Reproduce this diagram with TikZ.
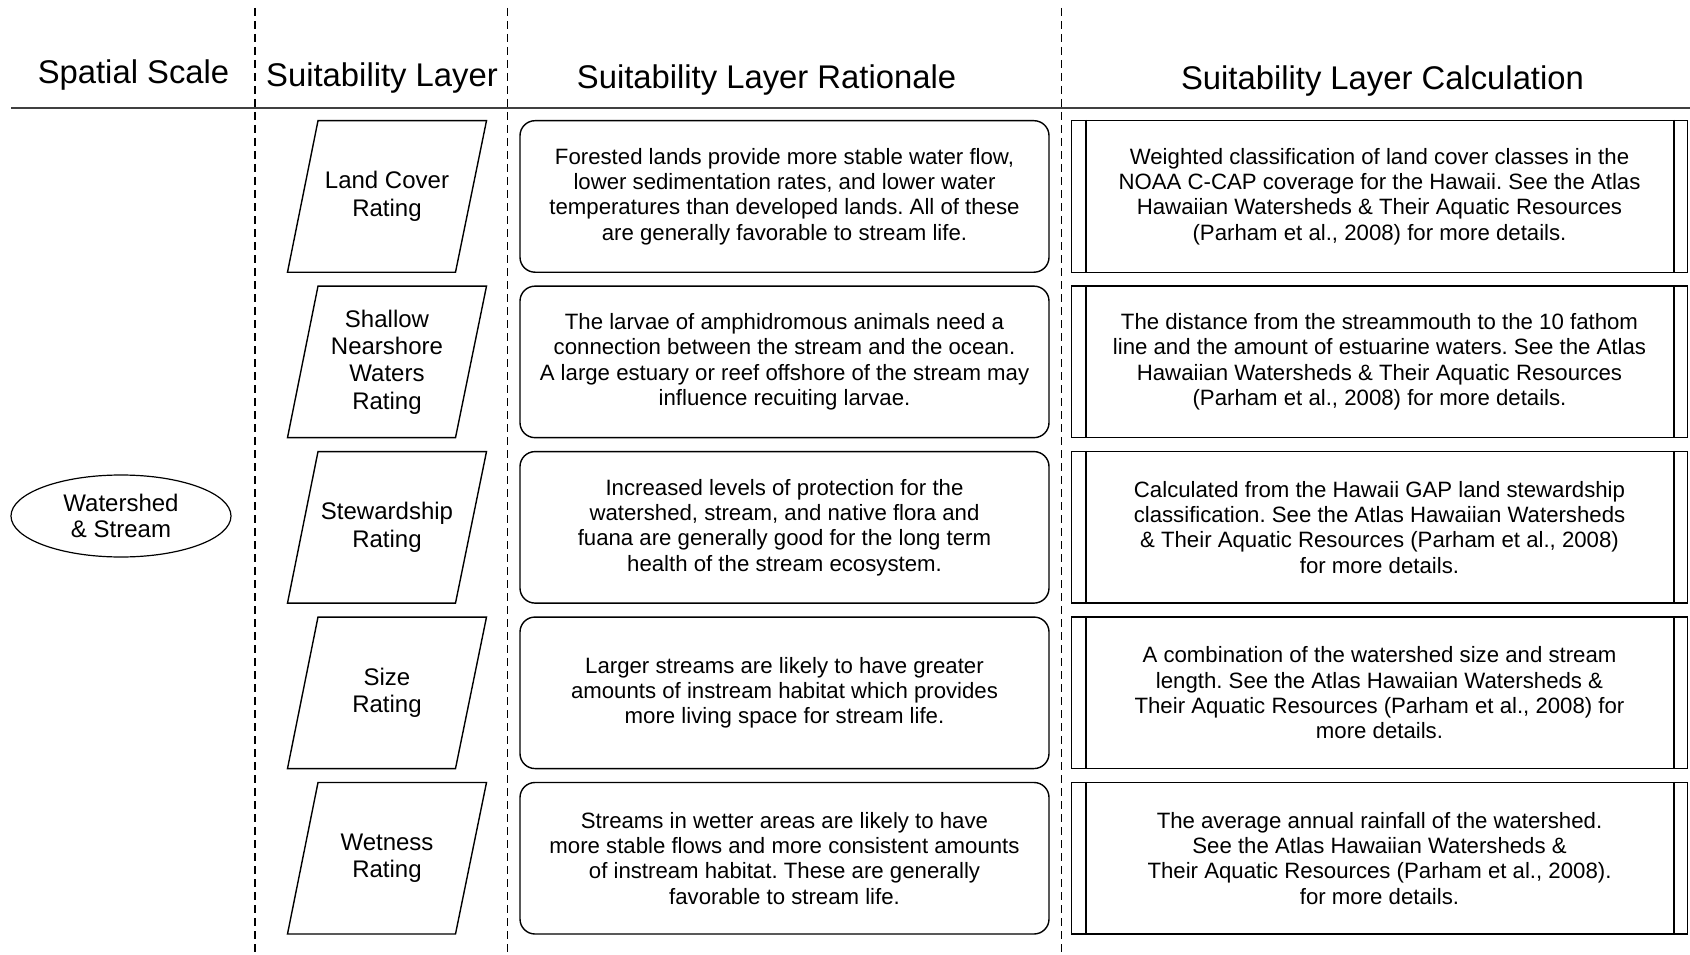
\documentclass[tikz,border=0pt]{standalone}
\usepackage{fontspec}
\setmainfont{Liberation Sans}
\usetikzlibrary{shapes.geometric}
\frenchspacing
\begin{document}
\begin{tikzpicture}[x=1pt,y=-1pt,line width=1.4pt,
	colhead/.style={anchor=base,font=\fontsize{32.8}{39}\selectfont},
	boxtext/.style={align=center,font=\fontsize{22.2}{25.3}\selectfont},
	shapetext/.style={align=center,font=\fontsize{24}{27.4}\selectfont},
	divider/.style={line width=1.3pt,dash pattern=on 8pt off 5pt},
	ratbox/.style={draw,rounded corners=15pt,minimum width=529pt,minimum height=151.5pt,inner sep=0pt,boxtext},
	calcbox/.style={draw,minimum width=616.5pt,minimum height=151.5pt,inner sep=0pt,boxtext}]
	\useasboundingbox (0,0) rectangle (1690,955);
	% column heads and rules
	\node[colhead] (hscale) at (133.5,83.5) {Spatial Scale};
	\node[colhead] (hlayer) at (382,86.8) {Suitability Layer};
	\node[colhead] (hrat) at (766.5,88.5) {Suitability Layer Rationale};
	\node[colhead] (hcalc) at (1382.5,90) {Suitability Layer Calculation};
	\draw[line width=2pt,black!75] (11,107.8)--(1690,107.8);
	\draw[divider] (255,8)--(255,955) (507.5,8)--(507.5,955) (1061.5,8)--(1061.5,955);
	% spatial scale
	\node[draw,ellipse,line width=1.2pt,minimum width=220pt,minimum height=82pt,inner sep=0pt,
		align=center,font=\fontsize{24}{25.6}\selectfont] (scale) at (121,516) {Watershed\\\& Stream};
	% one row per layer
	\foreach \lab/\rat/\calc [count=\i] in {
		{Land Cover\\Rating}/{Forested lands provide more stable water flow,\\lower sedimentation rates, and lower water\\temperatures than developed lands. All of these\\are generally favorable to stream life.}/{Weighted classification of land cover classes in the\\NOAA C-CAP coverage for the Hawaii. See the Atlas\\Hawaiian Watersheds \& Their Aquatic Resources\\(Parham et al., 2008) for more details.},
		{Shallow\\Nearshore\\Waters\\Rating}/{The larvae of amphidromous animals need a\\connection between the stream and the ocean.\\A large estuary or reef offshore of the stream may\\influence recuiting larvae.}/{The distance from the streammouth to the 10 fathom\\line and the amount of estuarine waters. See the Atlas\\Hawaiian Watersheds \& Their Aquatic Resources\\(Parham et al., 2008) for more details.},
		{Stewardship\\Rating}/{Increased levels of protection for the\\watershed, stream, and native flora and\\fuana are generally good for the long term\\health of the stream ecosystem.}/{Calculated from the Hawaii GAP land stewardship\\classification. See the Atlas Hawaiian Watersheds\\\& Their Aquatic Resources (Parham et al., 2008)\\for more details.},
		{Size\\Rating}/{Larger streams are likely to have greater\\amounts of instream habitat which provides\\more living space for stream life.}/{A combination of the watershed size and stream\\length. See the Atlas Hawaiian Watersheds \&\\Their Aquatic Resources (Parham et al., 2008) for\\more details.},
		{Wetness\\Rating}/{Streams in wetter areas are likely to have\\more stable flows and more consistent amounts\\of instream habitat. These are generally\\favorable to stream life.}/{The average annual rainfall of the watershed.\\See the Atlas Hawaiian Watersheds \&\\Their Aquatic Resources (Parham et al., 2008).\\for more details.}}{
		\begin{scope}[shift={(0,{120.7+165.45*(\i-1)})}]
			\draw (287.5,151.5)--(455.5,151.5)--(486.5,0)--(318,0)--cycle;
			\node[shapetext] (layer\i) at (387,75.75) {\lab};
			\node[ratbox] (rat\i) at (784.5,75.75) {\rat};
			\node[calcbox] (calc\i) at (1379.5,75.75) {\calc};
			\draw ([xshift=15.5pt]calc\i.north west)--([xshift=15.5pt]calc\i.south west)
			([xshift=-14.5pt]calc\i.north east)--([xshift=-14.5pt]calc\i.south east);
		\end{scope}
	}
\end{tikzpicture}
\end{document}
